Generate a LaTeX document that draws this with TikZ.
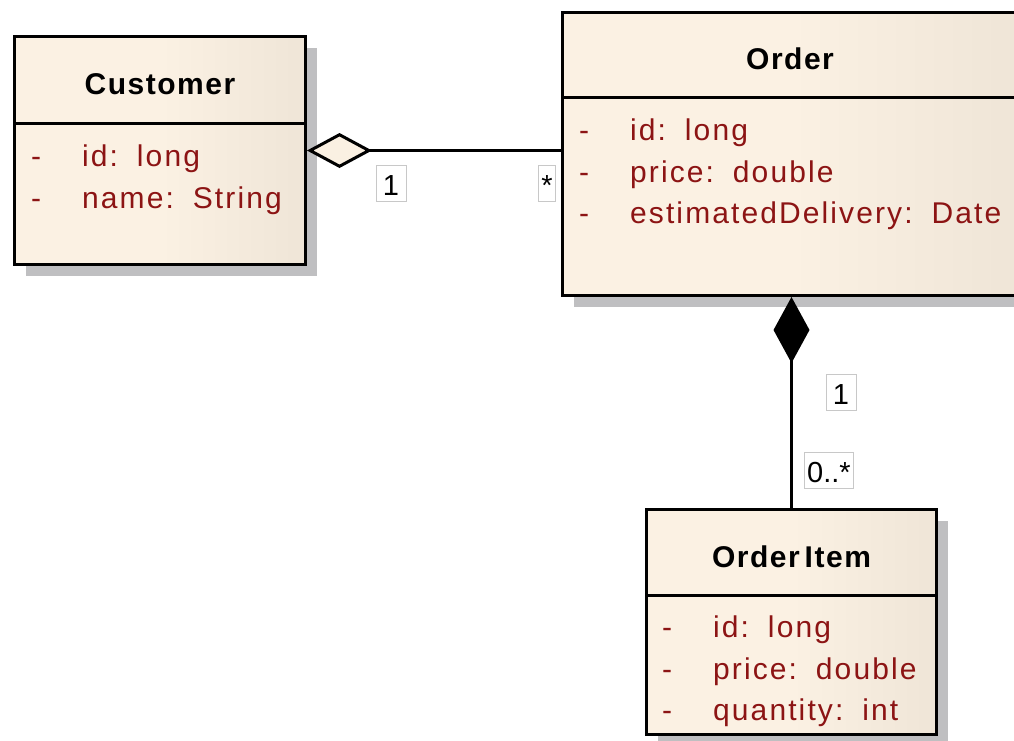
\documentclass[tikz,border=0pt]{standalone}
\usepackage{fontspec}
\setmainfont{Liberation Sans}
\newfontfamily\headfont[LetterSpace=5]{Liberation Sans}
\newfontfamily\attrfont[LetterSpace=7]{Liberation Sans}
\usetikzlibrary{arrows.meta,calc,shadows}

\definecolor{boxleft}{HTML}{FBF1E3}
\definecolor{boxright}{HTML}{E3D9CB}
\definecolor{shadowgray}{HTML}{BFBFC1}
\definecolor{attrred}{HTML}{8C1414}
\definecolor{tagborder}{HTML}{C8C8C8}
\definecolor{diamondfill}{HTML}{FAF0E2}

% Class compartments: flat cream on the left half, fading to beige at the right
\pgfdeclarehorizontalshading{classfill}{100bp}{%
  color(0bp)=(boxleft); color(50bp)=(boxleft); color(100bp)=(boxright)}

\tikzset{
  classbox/.style={rectangle, draw=black, line width=3pt, inner sep=0pt,
    shading=classfill,
    drop shadow={shadow xshift=11pt, shadow yshift=-11pt, fill=shadowgray, opacity=1}},
  classname/.style={anchor=base, inner sep=0pt,
    font=\headfont\bfseries\fontsize{30pt}{32pt}\selectfont},
  attribute/.style={anchor=base west, inner sep=0pt, text=attrred,
    font=\attrfont\fontsize{30pt}{32pt}\selectfont},
  compartment/.style={line width=3pt},
  assoc/.style={line width=3pt, draw=black},
  multiplicity/.style={draw=tagborder, line width=1pt, fill=white,
    font=\fontsize{29pt}{30pt}\selectfont,
    inner xsep=4pt, inner ysep=3pt, text height=27pt, text depth=3pt},
}
\newcommand{\attrline}[1]{\makebox[51pt][l]{-}#1}

\begin{document}
\begin{tikzpicture}[x=1pt, y=-1pt]
  \useasboundingbox (0,0) rectangle (1014,740);
  \fill[white] (0,0) rectangle (1014,740);
  \clip (0,0) rectangle (1014,740);

  % Customer
  \node[classbox, minimum width=291pt, minimum height=228pt, anchor=north west]
    (cust) at (13,35) {};
  \node[classname] (cust-name) at ($(cust.north)+(0,59)$) {Customer};
  \draw[compartment] ($(cust.north west)+(0,88)$) -- ($(cust.north east)+(0,88)$);
  \node[attribute] (cust-a1) at ($(cust.north west)+(18,131)$) {\attrline{id: \,long}};
  \node[attribute] (cust-a2) at ($(cust.north west)+(18,173)$) {\attrline{name: \,String}};

  % Order
  \node[classbox, minimum width=457pt, minimum height=283pt, anchor=north west]
    (ord) at (561,11) {};
  \node[classname] (ord-name) at ($(ord.north)+(-1,58)$) {Order};
  \draw[compartment] ($(ord.north west)+(0,86)$) -- ($(ord.north east)+(0,86)$);
  \node[attribute] (ord-a1) at ($(ord.north west)+(18,129)$) {\attrline{id: \,long}};
  \node[attribute] (ord-a2) at ($(ord.north west)+(18,171)$) {\attrline{price: \,double}};
  \node[attribute] (ord-a3) at ($(ord.north west)+(18,212)$) {\attrline{estimatedDelivery: \,Date}};

  % OrderItem
  \node[classbox, minimum width=290pt, minimum height=225pt, anchor=north west]
    (item) at (645,508) {};
  \node[classname] (item-name) at ($(item.north)+(0,59)$) {Order\,Item};
  \draw[compartment] ($(item.north west)+(0,87)$) -- ($(item.north east)+(0,87)$);
  \node[attribute] (item-a1) at ($(item.north west)+(17,129)$) {\attrline{id: \,long}};
  \node[attribute] (item-a2) at ($(item.north west)+(17,171)$) {\attrline{price: \,double}};
  \node[attribute] (item-a3) at ($(item.north west)+(17,212)$) {\attrline{quantity: \,int}};

  % Aggregation Customer <>-- Order
  \draw[assoc, {Diamond[length=65pt, width=35pt, fill=diamondfill]}-]
    (cust.east) -- (cust.east -| ord.west);
  \node[multiplicity, minimum width=30pt] (agg-one) at (391,183) {1};
  \node[multiplicity, inner xsep=3pt] (agg-many) at (547,183) {*};

  % Composition Order <#>-- OrderItem
  \draw[assoc, -{Diamond[length=66pt, width=36pt]}]
    (item.north) -- (item.north |- ord.south);
  \node[multiplicity, minimum width=30pt] (comp-one) at (841,392) {1};
  \node[multiplicity, inner xsep=3pt] (comp-many) at (829,470) {0..*};
\end{tikzpicture}
\end{document}
